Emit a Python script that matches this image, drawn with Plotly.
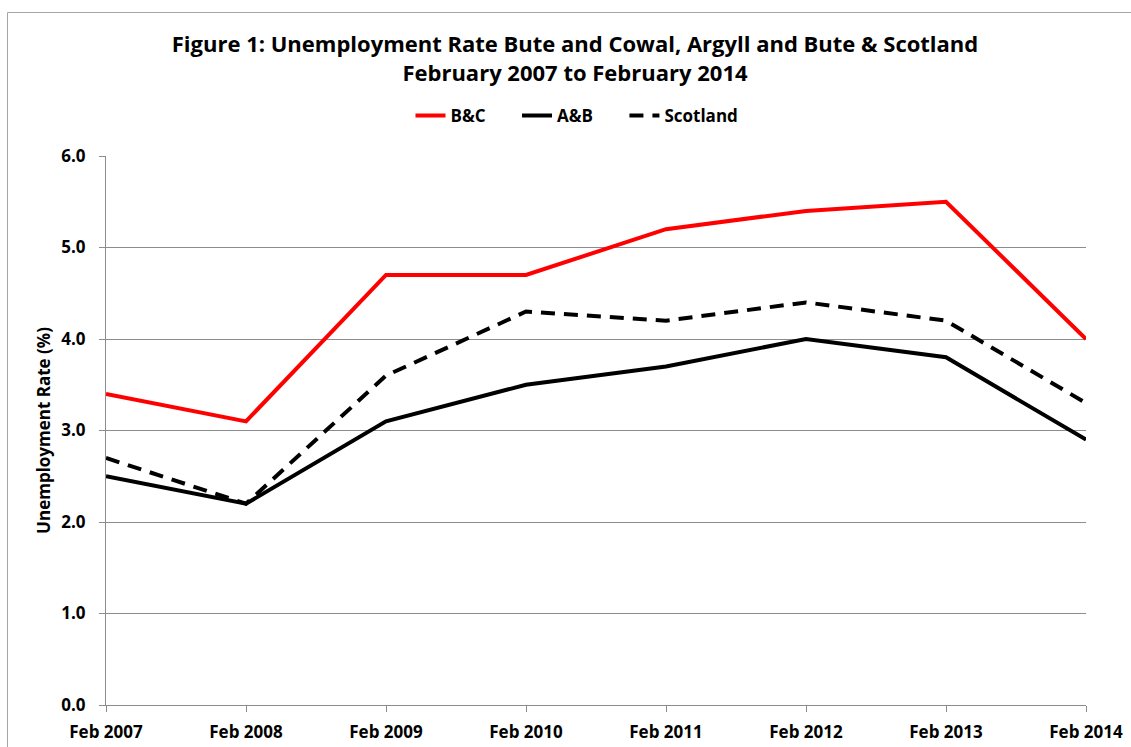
import plotly.graph_objects as go

categories = ["Feb 2007", "Feb 2008", "Feb 2009", "Feb 2010", "Feb 2011", "Feb 2012", "Feb 2013", "Feb 2014"]
bc = [3.4, 3.1, 4.7, 4.7, 5.2, 5.4, 5.5, 4.0]
ab = [2.5, 2.2, 3.1, 3.5, 3.7, 4.0, 3.8, 2.9]
scotland = [2.7, 2.2, 3.6, 4.3, 4.2, 4.4, 4.2, 3.3]
y_ticks = [0, 1, 2, 3, 4, 5, 6]

FONT = "Open Sans"
PAD = "\u00a0"

fig = go.Figure()
fig.add_trace(go.Scatter(x=categories, y=bc, mode="lines", name="B&C" + PAD * 6,
                         line=dict(color="#ff0000", width=4)))
fig.add_trace(go.Scatter(x=categories, y=ab, mode="lines", name="A&B" + PAD * 6,
                         line=dict(color="#000000", width=4)))
fig.add_trace(go.Scatter(x=categories, y=scotland, mode="lines", name="Scotland",
                         line=dict(color="#000000", width=4, dash="14px,9px")))

W, H = 1131, 747
L, R, T, B = 106, 45, 156, 42
pw, ph = W - L - R, H - T - B

def px(x):
    return (x - L) / pw

def py(y):
    return (H - B - y) / ph

tick_font = dict(size=17, family=FONT, color="black", weight="bold")

fig.update_layout(
    width=W, height=H,
    margin=dict(l=L, r=R, t=T, b=B, autoexpand=False),
    paper_bgcolor="white", plot_bgcolor="white",
    font=dict(family=FONT, color="black"),
    title=dict(
        text="Figure 1: Unemployment Rate Bute and Cowal, Argyll and Bute &amp; Scotland<br>February 2007 to February 2014",
        x=575 / W, xanchor="center", xref="container",
        y=1 - 52 / H, yanchor="top", yref="container",
        font=dict(size=22, family=FONT, color="black", weight="bold"),
    ),
    legend=dict(
        orientation="h", x=px(577), xanchor="center", y=py(116), yanchor="middle",
        font=dict(size=17, family=FONT, color="black", weight="bold"),
        traceorder="normal",
    ),
    xaxis=dict(
        type="category", range=[0, len(categories) - 1],
        showgrid=False, showline=True, linecolor="#8c8c8c", linewidth=1,
        ticks="outside", ticklen=6, tickcolor="#8c8c8c",
        tickfont=tick_font, ticklabelstandoff=6, automargin=False,
    ),
    yaxis=dict(
        range=[0, 6], tickvals=y_ticks, tickformat=".1f",
        showgrid=True, gridcolor="#8c8c8c", gridwidth=1,
        showline=True, linecolor="#8c8c8c", linewidth=1,
        ticks="outside", ticklen=6, tickcolor="#8c8c8c",
        tickfont=tick_font, ticklabelstandoff=10,
        zeroline=False, automargin=False,
        title=dict(text="Unemployment Rate (%)", font=dict(size=17, family=FONT, color="black", weight="bold"), standoff=6),
    ),
    shapes=[
        dict(type="rect", xref="paper", yref="paper", x0=px(7.5), x1=px(1200), y0=py(12.5), y1=py(800),
             line=dict(color="#a6a6a6", width=1), fillcolor="rgba(0,0,0,0)", layer="below"),
    ],
)

fig.write_html("out.html", config={"displayModeBar": False},
               post_script="document.body.style.margin='0';document.body.style.overflow='hidden';")
